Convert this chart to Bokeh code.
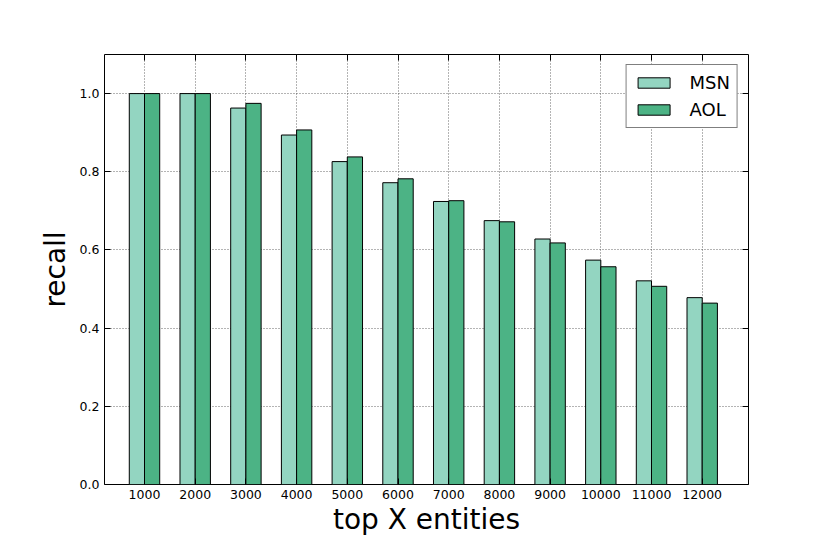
from bokeh.plotting import figure
from bokeh.models import (ColumnDataSource, FixedTicker, LinearAxis, Range1d,
                          Legend, LegendItem)
from bokeh.transform import dodge
from bokeh.embed import file_html
from bokeh.resources import INLINE

# ---- data ----
categories = [1000, 2000, 3000, 4000, 5000, 6000, 7000, 8000, 9000, 10000, 11000, 12000]
tick_labels = ["1000", "2000", "3000", "4000", "5000", "6000", "7000", "8000",
               "9000", "10000", "11000", "12000"]
msn = [1.0, 1.0, 0.963, 0.894, 0.826, 0.772, 0.724, 0.675, 0.628, 0.574, 0.521, 0.478]
aol = [1.0, 1.0, 0.975, 0.907, 0.838, 0.782, 0.726, 0.672, 0.618, 0.557, 0.507, 0.464]
y_ticks = [0.0, 0.2, 0.4, 0.6, 0.8, 1.0]

MSN_COLOR = "#93d5c1"
AOL_COLOR = "#4cb385"
FONT = "DejaVu Sans"

src = ColumnDataSource(dict(x=categories, msn=msn, aol=aol))

p = figure(width=814, height=538, output_backend="svg", toolbar_location=None,
           x_range=Range1d(211, 12913), y_range=Range1d(0, 1.1),
           min_border_left=104, min_border_right=66, min_border_top=54,
           min_border_bottom=54)

r_msn = p.vbar(x=dodge("x", -150, range=p.x_range), top="msn", width=300, bottom=0,
               source=src, fill_color=MSN_COLOR, line_color="black", line_width=1)
r_aol = p.vbar(x=dodge("x", 150, range=p.x_range), top="aol", width=300, bottom=0,
               source=src, fill_color=AOL_COLOR, line_color="black", line_width=1)

# axes
xa = p.xaxis[0]
xa.ticker = FixedTicker(ticks=categories)
xa.major_label_overrides = {c: l for c, l in zip(categories, tick_labels)}
ya = p.yaxis[0]
ya.ticker = FixedTicker(ticks=y_ticks)
ya.major_label_overrides = {t: f"{t:.1f}" for t in y_ticks}

for ax in (xa, ya):
    ax.axis_line_color = None
    ax.major_tick_in = 6
    ax.major_tick_out = 0
    ax.major_tick_line_color = "black"
    ax.minor_tick_line_color = None
    ax.major_label_text_font = FONT
    ax.major_label_text_font_size = "12.5px"
    ax.major_label_text_color = "black"
    ax.major_label_standoff = 5
    ax.axis_label_text_font = FONT
    ax.axis_label_text_font_size = "28px"
    ax.axis_label_text_font_style = "normal"
    ax.axis_label_text_color = "black"

xa.axis_label = "top X entities"
xa.axis_label_standoff = 1
ya.axis_label = "recall"
ya.axis_label_standoff = 5

# mirrored inward ticks on top and right (no labels)
top = LinearAxis(ticker=FixedTicker(ticks=categories))
right = LinearAxis(ticker=FixedTicker(ticks=y_ticks))
for ax in (top, right):
    ax.axis_line_color = None
    ax.major_tick_in = 6
    ax.major_tick_out = 0
    ax.major_tick_line_color = "black"
    ax.minor_tick_line_color = None
    ax.major_label_text_color = None
    ax.major_label_standoff = 0
p.add_layout(top, "above")
p.add_layout(right, "right")

p.outline_line_color = "black"
p.outline_line_width = 1
p.outline_line_alpha = 1

for g in (p.xgrid[0], p.ygrid[0]):
    g.grid_line_color = "#444444"
    g.grid_line_dash = "1 2"
    g.grid_line_width = 1
    g.grid_line_alpha = 0.8
p.xgrid[0].ticker = FixedTicker(ticks=categories)
p.ygrid[0].ticker = FixedTicker(ticks=y_ticks)

legend = Legend(items=[LegendItem(label="MSN", renderers=[r_msn]),
                       LegendItem(label="AOL", renderers=[r_aol])],
                location="top_right", margin=10, padding=7, spacing=6,
                glyph_width=40, glyph_height=13, label_height=20,
                label_standoff=16, border_line_color="black", border_line_width=1,
                label_text_font=FONT, label_text_font_size="18px",
                label_text_color="black", background_fill_alpha=1)
p.add_layout(legend, "center")

open("out.html", "w").write(file_html(p, INLINE))
